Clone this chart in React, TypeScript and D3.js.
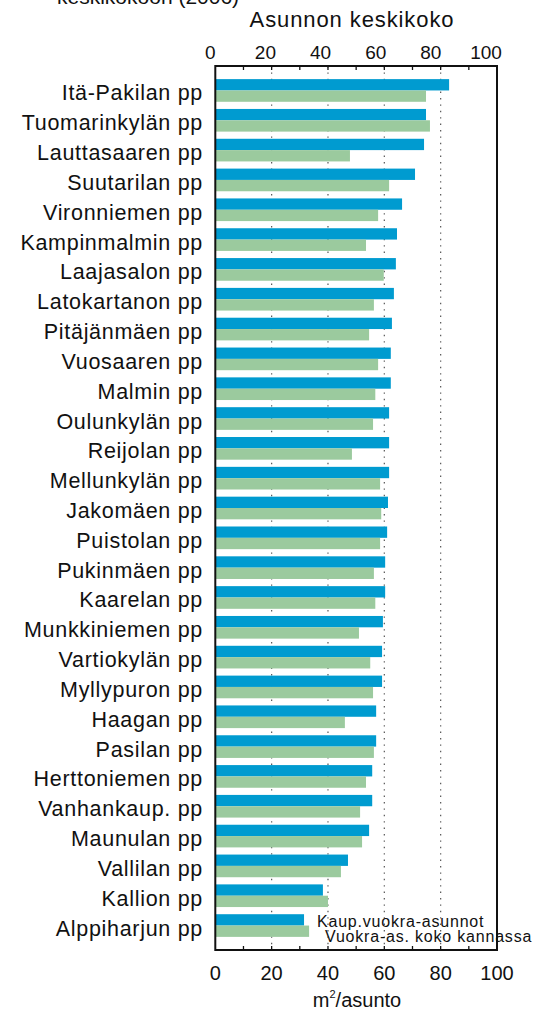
import React, { useEffect, useRef } from 'react';
import * as d3 from 'd3';

// Districts (postal areas), top to bottom
const districts: string[] = [
  'Itä-Pakilan pp', 'Tuomarinkylän pp', 'Lauttasaaren pp', 'Suutarilan pp',
  'Vironniemen pp', 'Kampinmalmin pp', 'Laajasalon pp', 'Latokartanon pp',
  'Pitäjänmäen pp', 'Vuosaaren pp', 'Malmin pp', 'Oulunkylän pp',
  'Reijolan pp', 'Mellunkylän pp', 'Jakomäen pp', 'Puistolan pp',
  'Pukinmäen pp', 'Kaarelan pp', 'Munkkiniemen pp', 'Vartiokylän pp',
  'Myllypuron pp', 'Haagan pp', 'Pasilan pp', 'Herttoniemen pp',
  'Vanhankaup. pp', 'Maunulan pp', 'Vallilan pp', 'Kallion pp', 'Alppiharjun pp',
];

// Kaup.vuokra-asunnot (m2/asunto)
const cityRental: number[] = [
  83.0, 74.8, 74.1, 70.9, 66.3, 64.5, 64.1, 63.4, 62.7, 62.3, 62.3, 61.7,
  61.7, 61.7, 61.3, 61.0, 60.3, 60.3, 59.5, 59.2, 59.2, 57.1, 57.1, 55.7,
  55.7, 54.6, 47.1, 38.2, 31.5,
];

// Vuokra-as. koko kannassa (m2/asunto)
const allRental: number[] = [
  74.8, 76.2, 47.8, 61.7, 57.8, 53.5, 59.8, 56.3, 54.6, 57.8, 56.8, 56.0,
  48.5, 58.5, 58.9, 58.5, 56.3, 56.8, 51.0, 55.0, 56.0, 46.0, 56.3, 53.5,
  51.4, 52.1, 44.6, 40.0, 33.3,
];

const seriesNames: string[] = ['Kaup.vuokra-asunnot', 'Vuokra-as. koko kannassa'];
const tickValues: number[] = [0, 20, 40, 60, 80, 100];
const minorTicks: number[] = [10, 20, 30, 40, 50, 60, 70, 80, 90];
const gridValues: number[] = [20, 40, 60, 80];

const W = 534;
const H = 1012;
const FONT = '"Liberation Sans", Arial, sans-serif';
const BLUE = '#009bd0';
const GREEN = '#9bca9e';

export default function App() {
  const ref = useRef<SVGSVGElement | null>(null);

  useEffect(() => {
    const svg = d3.select(ref.current);
    svg.selectAll('*').remove();

    const plot = { left: 215.3, right: 497, top: 66, bottom: 950 };

    const x = d3.scaleLinear().domain([0, 100]).range([plot.left, plot.right]);
    // top labels sit a little left of their ticks in the original
    const xTop = d3.scaleLinear().domain([0, 100]).range([plot.left - 5, plot.right - 11]);

    const y = d3.scaleBand<string>()
      .domain(districts)
      .range([plot.top, plot.bottom])
      .paddingInner(0.24)
      .paddingOuter(0.44);

    const sub = d3.scaleBand<number>()
      .domain([0, 1])
      .range([0, y.bandwidth()]);

    // dotted gridlines
    svg.append('g')
      .selectAll('line')
      .data(gridValues)
      .enter().append('line')
      .attr('x1', d => x(d)).attr('x2', d => x(d))
      .attr('y1', plot.top).attr('y2', plot.bottom)
      .attr('stroke', '#555')
      .attr('stroke-width', 1.2)
      .attr('stroke-dasharray', '1.4,5');

    // bars
    const rows = svg.append('g')
      .selectAll('g')
      .data(districts)
      .enter().append('g')
      .attr('transform', d => `translate(0,${y(d)})`);

    rows.append('rect')
      .attr('x', x(0))
      .attr('y', sub(0)!)
      .attr('width', (_, i) => x(cityRental[i]) - x(0))
      .attr('height', sub.bandwidth())
      .attr('fill', BLUE);

    rows.append('rect')
      .attr('x', x(0))
      .attr('y', sub(1)!)
      .attr('width', (_, i) => x(allRental[i]) - x(0))
      .attr('height', sub.bandwidth())
      .attr('fill', GREEN);

    // category labels
    svg.append('g')
      .selectAll('text')
      .data(districts)
      .enter().append('text')
      .attr('x', 203)
      .attr('y', d => y(d)! + y.bandwidth() / 2 + 10)
      .attr('text-anchor', 'end')
      .attr('font-family', FONT)
      .attr('font-size', 21.5)
      .attr('letter-spacing', 0.7)
      .attr('fill', '#111')
      .text(d => d);

    // frame
    svg.append('rect')
      .attr('x', plot.left)
      .attr('y', plot.top)
      .attr('width', plot.right - plot.left)
      .attr('height', plot.bottom - plot.top)
      .attr('fill', 'none')
      .attr('stroke', '#111')
      .attr('stroke-width', 2);

    // inward minor ticks, top and bottom
    const tk = svg.append('g').attr('stroke', '#111').attr('stroke-width', 1.3);
    tk.selectAll('.tt')
      .data(minorTicks)
      .enter().append('line')
      .attr('x1', d => x(d)).attr('x2', d => x(d))
      .attr('y1', plot.top).attr('y2', plot.top + 4);
    tk.selectAll('.tb')
      .data(minorTicks)
      .enter().append('line')
      .attr('x1', d => x(d)).attr('x2', d => x(d))
      .attr('y1', plot.bottom).attr('y2', plot.bottom - 4);

    // tick labels
    svg.append('g')
      .selectAll('text')
      .data(tickValues)
      .enter().append('text')
      .attr('x', d => xTop(d))
      .attr('y', 58.5)
      .attr('text-anchor', 'middle')
      .attr('font-family', FONT)
      .attr('font-size', 19)
      .attr('fill', '#111')
      .text(d => d);

    svg.append('g')
      .selectAll('text')
      .data(tickValues)
      .enter().append('text')
      .attr('x', d => x(d))
      .attr('y', 980)
      .attr('text-anchor', 'middle')
      .attr('font-family', FONT)
      .attr('font-size', 20)
      .attr('fill', '#111')
      .text(d => d);

    // titles (the first line is cut by the top edge in the original)
    svg.append('text')
      .attr('x', 57)
      .attr('y', 4)
      .attr('font-family', FONT)
      .attr('font-size', 21)
      .attr('fill', '#111')
      .text('keskikokoon (2006)');

    svg.append('text')
      .attr('x', 352)
      .attr('y', 26.5)
      .attr('text-anchor', 'middle')
      .attr('font-family', FONT)
      .attr('font-size', 22)
      .attr('letter-spacing', 0.9)
      .attr('fill', '#111')
      .text('Asunnon keskikoko');

    const unit = svg.append('text')
      .attr('x', 357)
      .attr('y', 1007)
      .attr('text-anchor', 'middle')
      .attr('font-family', FONT)
      .attr('font-size', 20)
      .attr('fill', '#111');
    unit.append('tspan').text('m');
    unit.append('tspan').attr('font-size', 11).attr('dy', -9).text('2');
    unit.append('tspan').attr('dy', 9).text('/asunto');

    // legend (text only)
    svg.append('g')
      .selectAll('text')
      .data(seriesNames)
      .enter().append('text')
      .attr('x', (_, i) => (i === 0 ? 317 : 325))
      .attr('y', (_, i) => 927 + i * 15)
      .attr('font-family', FONT)
      .attr('font-size', 16)
      .attr('letter-spacing', 0.8)
      .attr('fill', '#111')
      .text(d => d);
  }, []);

  return (
    <svg
      ref={ref}
      width={W}
      height={H}
      style={{ position: 'absolute', left: 0, top: 0, background: '#fff' }}
    />
  );
}
